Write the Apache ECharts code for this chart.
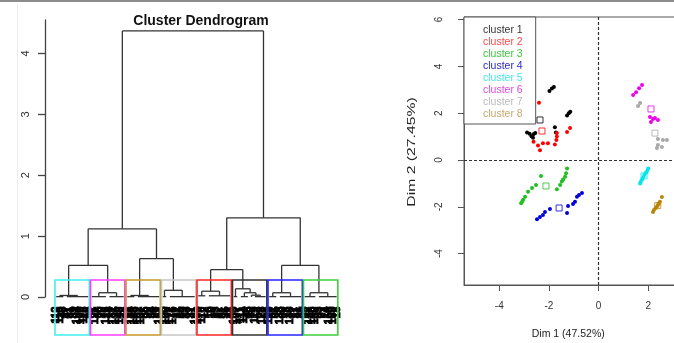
<!DOCTYPE html>
<html><head><meta charset="utf-8">
<script src="https://cdn.jsdelivr.net/npm/echarts@6/dist/echarts.min.js"></script>
<style>html,body{margin:0;padding:0;background:#fff}#c{width:674px;height:343px}</style>
</head><body><div id="c"></div>
<script>
// ---------------- Dendrogram data ----------------
const dendroTicks = [0, 1, 2, 3, 4];
const clusterOrder = ['cluster 5','cluster 6','cluster 8','cluster 7','cluster 2','cluster 1','cluster 4','cluster 3'];
const boxColors = ['#3ff0f0','#ff3cff','#c8962a','#c6c6c6','#ff2424','#333333','#2424ff','#3ccf3c'];
// within-cluster sub-trees (a number = group of leaves merged near 0)
const subTrees = [
  {h:0.025, c:[3, 7]},
  {h:0.07,  c:[5, 5]},
  {h:0.025, c:[3, 7]},
  {h:0.11,  c:[2, 8]},
  {h:0.095, c:[{n:3, h:0.02}, {n:7, h:0.02}]},
  {h:0.135, c:[2, {h:0.07, c:[3, {h:0.03, c:[1, 4]}]}]},
  {h:0.07,  c:[3, 7]},
  {h:0.07,  c:[4, 6]}
];
// upper merges between clusters: [left, right, height]
const upperMerges = [
  ['c0','c1',0.52], ['c2','c3',0.63], ['c4','c5',0.45], ['c6','c7',0.52],
  ['m0','m1',1.12], ['m2','m3',1.30], ['m4','m5',4.37]
];
const cutHeight = 0.28;      // top of cluster rectangles
const plotBottom = -0.625;   // bottom of cluster rectangles
const labelHeight = -0.158;  // where leaf labels start
const flatHeight = 0.006;
const leafLabels = [
  '112','118','43','47','51','39','104','109','115','58',
  '62','121','66','70','126','74','131','135','140','78',
  '82','144','148','152','157','86','90','94','98','161',
  '165','169','172','176','21','25','29','33','37','101',
  '106','110','12','16','19','23','27','31','35','41',
  '103','107','111','114','45','49','119','53','123','57',
  '128','61','65','133','69','73','138','77','81','85',
  '89','142','146','150','93','97','14','155','159','18'
];

// ---------------- Factor map data ----------------
const clusterNames = ['cluster 1','cluster 2','cluster 3','cluster 4','cluster 5','cluster 6','cluster 7','cluster 8'];
const pointColors = ['#000000','#ff0000','#1fc01f','#0000dd','#00e5ee','#ee00ee','#a8a8a8','#b8860b'];
const legendColors = ['#333333','#ff4a4a','#3cc83c','#2a2acc','#44e8e8','#e24ae2','#bbbbbb','#c8a870'];
const c1 = [[-1.98,2.95],[-1.88,3.05],[-1.80,3.12],[-1.27,1.90],[-1.20,2.00],[-1.14,2.06],[-2.88,1.18],[-2.78,1.12],[-2.70,1.02],[-2.62,1.10],[-2.64,0.95],[-2.55,1.15],[-1.76,1.40],[-1.72,1.18]];
const c2 = [[-2.40,2.45],[-1.15,1.37],[-1.27,1.20],[-1.68,1.15],[-1.68,1.00],[-1.70,0.85],[-1.76,0.66],[-2.62,0.78],[-2.44,0.62],[-2.24,0.72],[-2.04,0.72],[-2.36,0.42]];
const c3 = [[-1.27,-0.36],[-1.31,-0.57],[-1.35,-0.71],[-1.43,-0.83],[-1.48,-0.92],[-1.55,-1.07],[-1.68,-1.25],[-2.32,-0.68],[-2.52,-1.07],[-2.68,-1.20],[-2.84,-1.36],[-2.96,-1.57],[-3.04,-1.70],[-3.08,-1.78],[-3.12,-1.85]];
const c4 = [[-0.67,-1.41],[-0.79,-1.50],[-0.87,-1.57],[-0.95,-1.78],[-1.03,-1.88],[-1.23,-1.97],[-1.27,-2.26],[-1.96,-2.09],[-2.16,-2.22],[-2.24,-2.35],[-2.36,-2.44],[-2.48,-2.53]];
const c5 = [[2.00,-0.36],[1.96,-0.46],[1.91,-0.54],[1.84,-0.64],[1.80,-0.74],[1.75,-0.83],[1.70,-0.93],[1.67,-1.00]];
const c6 = [[1.75,3.20],[1.63,3.07],[1.51,2.90],[1.39,2.78],[2.07,1.84],[2.19,1.75],[2.39,1.71],[2.11,1.62],[2.27,1.80]];
const c7 = [[1.67,2.44],[1.59,2.31],[2.39,0.90],[2.59,0.85],[2.39,0.64],[2.55,0.56],[2.35,0.51],[2.75,0.85]];
const c8 = [[2.55,-1.58],[2.47,-1.78],[2.39,-1.92],[2.35,-2.00],[2.23,-2.14],[2.19,-2.22],[2.30,-2.05],[2.43,-1.85]];
const centroids = [[-2.36,1.71],[-2.28,1.24],[-2.12,-1.11],[-1.59,-2.05],[1.83,-0.68],[2.11,2.18],[2.27,1.15],[2.38,-1.95]];
const xTicks = [-4, -2, 0, 2];
const yTicks = [-4, -2, 0, 2, 4, 6];

// ---------------- Dendrogram layout (R hclust rule: node x = mean of children) ----------------
const segs = [];
function layout(node, start) {
  if (typeof node === 'number' || node.n !== undefined) {
    const n = typeof node === 'number' ? node : node.n;
    const h = n === 1 ? 0 : (typeof node === 'number' ? flatHeight : node.h);
    const first = start + 1, last = start + n;
    if (n > 1) segs.push([first, h, last, h]);
    return {x: (first + last) / 2, h: h, n: n};
  }
  const a = layout(node.c[0], start);
  const b = layout(node.c[1], start + a.n);
  segs.push([a.x, a.h, a.x, node.h], [b.x, b.h, b.x, node.h], [a.x, node.h, b.x, node.h]);
  return {x: (a.x + b.x) / 2, h: node.h, n: a.n + b.n};
}
const nodes = {};
const boxes = [];
let start = 0;
subTrees.forEach((t, i) => {
  const r = layout(t, start);
  nodes['c' + i] = r;
  boxes.push([start + 0.66, start + r.n + 0.33, i]);
  start += r.n;
});
const leafTotal = start;
upperMerges.forEach((m, i) => {
  const a = nodes[m[0]], b = nodes[m[1]], h = m[2];
  segs.push([a.x, a.h, a.x, h], [b.x, b.h, b.x, h], [a.x, h, b.x, h]);
  nodes['m' + i] = {x: (a.x + b.x) / 2, h: h, n: a.n + b.n};
});
const leafData = [];
for (let i = 1; i <= leafTotal; i++) leafData.push([i, labelHeight]);

const FONT = 'Liberation Sans, Arial, sans-serif';
const chart = echarts.init(document.getElementById('c'), null, {renderer: 'canvas'});

const scatterSeries = [c1, c2, c3, c4, c5, c6, c7, c8].map((d, i) => ({
  type: 'scatter', name: clusterNames[i], xAxisIndex: 1, yAxisIndex: 1,
  data: d, symbol: 'circle', symbolSize: 4, itemStyle: {color: pointColors[i], opacity: 1},
  silent: true, z: 3
}));
scatterSeries[0].markLine = {
  silent: true, symbol: 'none', animation: false, label: {show: false},
  lineStyle: {type: [3, 2], color: '#333', width: 1.2},
  data: [{xAxis: 0}, {yAxis: 0}]
};

chart.setOption({
  animation: false,
  textStyle: {fontFamily: FONT},
  title: {text: 'Cluster Dendrogram', left: 196, textAlign: 'center', top: 9,
    textStyle: {fontSize: 14, fontWeight: 'bold', color: '#111', fontFamily: FONT}},
  grid: [
    {left: 45, top: 20, width: 300, bottom: 46, outerBoundsMode: 'none', containLabel: false},
    {left: 464, top: 17, width: 221.5, height: 268, outerBoundsMode: 'none', containLabel: false,
      show: true, borderColor: '#555', borderWidth: 1, backgroundColor: 'transparent'}
  ],
  xAxis: [
    {type: 'value', gridIndex: 0, min: -2.157, max: 82.35, show: false},
    {type: 'value', gridIndex: 1, min: -5.42, max: 3.5,
      axisLine: {show: true, onZero: false, lineStyle: {color: '#555'}},
      axisTick: {show: true, customValues: xTicks, length: 6, lineStyle: {color: '#555'}},
      axisLabel: {customValues: xTicks, margin: 16, fontSize: 10, color: '#333', fontFamily: FONT},
      splitLine: {show: false},
      name: 'Dim 1 (47.52%)', nameLocation: 'middle', nameGap: 44,
      nameTextStyle: {fontSize: 10.5, color: '#222', padding: [0, 13, 0, 0], fontFamily: FONT}}
  ],
  yAxis: [
    {type: 'value', gridIndex: 0, min: 0, max: 4.55,
      axisLine: {show: true, onZero: false, lineStyle: {color: '#444', width: 1.3}},
      axisTick: {show: true, customValues: dendroTicks, length: 7, lineStyle: {color: '#444', width: 1.3}},
      axisLabel: {customValues: dendroTicks, rotate: 90, margin: 14, fontSize: 11, color: '#333', fontFamily: FONT},
      splitLine: {show: false}},
    {type: 'value', gridIndex: 1, min: -5.34, max: 6.11,
      axisLine: {show: true, onZero: false, lineStyle: {color: '#555'}},
      axisTick: {show: true, customValues: yTicks, length: 6, lineStyle: {color: '#555'}},
      axisLabel: {customValues: yTicks, rotate: 90, margin: 20, fontSize: 10, color: '#333', fontFamily: FONT},
      splitLine: {show: false}}
  ],
  legend: {
    orient: 'vertical', left: 464, top: 17, padding: [7, 13, 4, 14], itemGap: 0,
    itemWidth: 0, itemHeight: 12, backgroundColor: '#fff', borderColor: '#555', borderWidth: 1,
    selectedMode: false, z: 2,
    textStyle: {fontSize: 10.5, lineHeight: 12, fontFamily: FONT},
    data: clusterNames.map((n, i) => ({name: n, icon: 'rect', itemStyle: {opacity: 0}, textStyle: {color: legendColors[i]}}))
  },
  graphic: [
    {type: 'line', shape: {x1: 0, y1: 1, x2: 674, y2: 1}, style: {stroke: '#8c8c8c', lineWidth: 2}, silent: true},
    {type: 'line', shape: {x1: 17.5, y1: 4, x2: 17.5, y2: 343}, style: {stroke: '#ececec', lineWidth: 1}, silent: true},
    {type: 'text', x: 412, y: 152, rotation: Math.PI / 2, scaleX: 1.5, scaleY: 1, silent: true,
      style: {text: 'Dim 2 (27.45%)', fontSize: 10.5, fill: '#222', align: 'center', verticalAlign: 'middle', fontFamily: FONT}}
  ],
  series: [
    {type: 'custom', name: 'tree', xAxisIndex: 0, yAxisIndex: 0, clip: false, silent: true,
      data: segs, encode: {x: [0, 2], y: [1, 3]},
      renderItem: (p, api) => {
        const a = api.coord([api.value(0), api.value(1)]);
        const b = api.coord([api.value(2), api.value(3)]);
        return {type: 'line', shape: {x1: a[0], y1: a[1], x2: b[0], y2: b[1]},
          style: {stroke: '#333', lineWidth: 1.3}};
      }},
    {type: 'custom', name: 'labels', xAxisIndex: 0, yAxisIndex: 0, clip: false, silent: true,
      data: leafData, encode: {x: 0, y: 1},
      renderItem: (p, api) => {
        const pt = api.coord([api.value(0), api.value(1)]);
        return {type: 'text', x: pt[0], y: pt[1], rotation: Math.PI / 2,
          style: {text: leafLabels[p.dataIndex], fontSize: 10.5, fontWeight: 'bold', fill: '#000',
            stroke: '#000', lineWidth: 0.9,
            align: 'right', verticalAlign: 'middle', fontFamily: FONT}};
      }},
    {type: 'custom', name: 'boxes', xAxisIndex: 0, yAxisIndex: 0, clip: false, silent: true,
      data: boxes, encode: {x: [0, 1]},
      renderItem: (p, api) => {
        const a = api.coord([api.value(0), cutHeight]);
        const b = api.coord([api.value(1), plotBottom]);
        return {type: 'rect', shape: {x: a[0], y: a[1], width: b[0] - a[0], height: b[1] - a[1]},
          style: {fill: 'none', stroke: boxColors[api.value(2)], lineWidth: 1.6}};
      }},
    ...scatterSeries,
    {type: 'scatter', name: 'centres', xAxisIndex: 1, yAxisIndex: 1, symbol: 'rect', symbolSize: 6, silent: true, z: 4,
      data: centroids.map((c, i) => ({value: c, itemStyle: {color: 'rgba(255,255,255,0)', borderColor: pointColors[i], borderWidth: 1}}))}
  ]
});
</script></body></html>
